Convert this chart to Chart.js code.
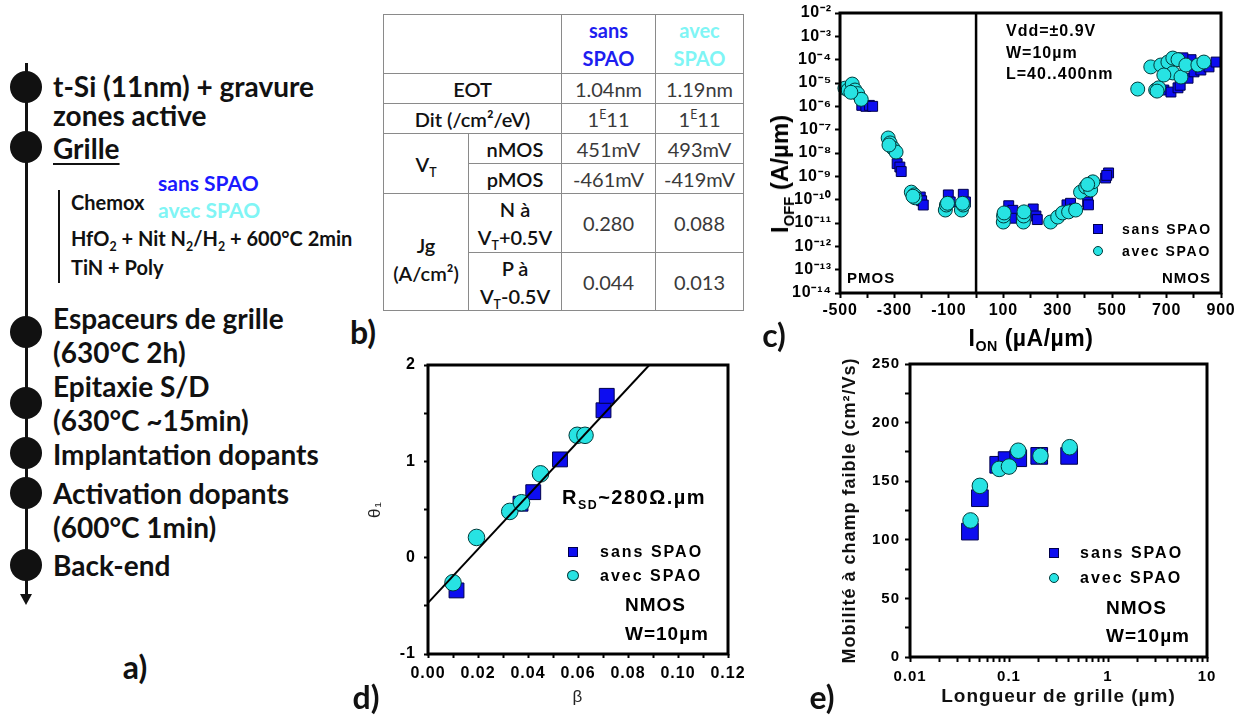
<!DOCTYPE html>
<html><head><meta charset="utf-8">
<script src="https://cdn.jsdelivr.net/npm/chart.js@4.4.0/dist/chart.umd.min.js"></script>
<style>
body{margin:0;background:#fff;}
#root{position:relative;width:1243px;height:715px;overflow:hidden;background:#fff;font-family:'Liberation Sans',Arial,sans-serif;color:#000;}
canvas{position:absolute;}
.t{position:absolute;white-space:nowrap;line-height:1;transform:translateY(-50%);}
.a{font-family:Lato,sans-serif;font-weight:700;font-size:28px;color:#111;}
.s{font-family:Lato,sans-serif;font-weight:700;font-size:20px;color:#111;}
.lab{font-family:Lato,sans-serif;font-weight:700;font-size:32px;color:#111;transform:translate(-50%,-50%);}
.ann{font-weight:700;font-size:19px;letter-spacing:1px;}
.leg{font-weight:700;font-size:16px;letter-spacing:2px;}
.sq{position:absolute;background:#0d0df0;border:1px solid #00004d;box-sizing:border-box;}
.ci{position:absolute;background:#27e3e3;border:1px solid #003a3a;border-radius:50%;box-sizing:border-box;}
.dot{position:absolute;width:32px;height:32px;border-radius:50%;background:#111;left:10px;}
sub,sup{font-size:0.62em;line-height:0;}
#tb{position:absolute;left:383px;top:14px;border-collapse:collapse;table-layout:fixed;width:360px;font-family:Lato,sans-serif;font-size:20px;color:#3a3a3a;}
#tb td{border:1px solid #8a8a8a;text-align:center;vertical-align:middle;padding:0;line-height:28px;white-space:nowrap;overflow:hidden;}
#tb td.k{color:#111;font-weight:600;}
#tb td.h1{color:#1e1ef0;font-weight:700;}
#tb td.h2{color:#7ff5f5;font-weight:700;}
</style></head>
<body><div id="root">

<!-- panel a -->
<div style="position:absolute;left:24.5px;top:63px;width:3px;height:535px;background:#111;"></div>
<div style="position:absolute;left:20px;top:594px;width:0;height:0;border-left:6px solid transparent;border-right:6px solid transparent;border-top:11px solid #111;"></div>
<div class="dot" style="top:71px"></div>
<div class="dot" style="top:131px"></div>
<div class="dot" style="top:316px"></div>
<div class="dot" style="top:387px"></div>
<div class="dot" style="top:437px"></div>
<div class="dot" style="top:477px"></div>
<div class="dot" style="top:549px"></div>
<div class="t a" style="left:53px;top:86px">t-Si (11nm) + gravure</div>
<div class="t a" style="left:53px;top:115px">zones active</div>
<div class="t a" style="left:53px;top:148px;text-decoration:underline;text-decoration-thickness:2px;text-underline-offset:4px;">Grille</div>
<div style="position:absolute;left:58px;top:190px;width:2px;height:93px;background:#111;"></div>
<div class="t s" style="left:71px;top:202px">Chemox</div>
<div class="t s" style="left:158px;top:182px;color:#1a1aff;font-size:21px">sans SPAO</div>
<div class="t s" style="left:158px;top:209px;color:#80f5f5;font-size:21px">avec SPAO</div>
<div class="t s" style="left:71px;top:238px">HfO<sub>2</sub> + Nit N<sub>2</sub>/H<sub>2</sub> + 600°C 2min</div>
<div class="t s" style="left:71px;top:267px">TiN + Poly</div>
<div class="t a" style="left:53px;top:318px">Espaceurs de grille</div>
<div class="t a" style="left:53px;top:352px">(630°C 2h)</div>
<div class="t a" style="left:53px;top:386px">Epitaxie S/D</div>
<div class="t a" style="left:53px;top:420px">(630°C ~15min)</div>
<div class="t a" style="left:53px;top:454px">Implantation dopants</div>
<div class="t a" style="left:53px;top:493px">Activation dopants</div>
<div class="t a" style="left:53px;top:527px">(600°C 1min)</div>
<div class="t a" style="left:53px;top:565px">Back-end</div>
<div class="t lab" style="left:135px;top:667px">a)</div>

<!-- panel b -->
<table id="tb">
<colgroup><col style="width:85px"><col style="width:93px"><col style="width:94px"><col style="width:88px"></colgroup>
<tr style="height:59px"><td colspan="2"></td><td class="h1">sans<br>SPAO</td><td class="h2">avec<br>SPAO</td></tr>
<tr style="height:30px"><td colspan="2" class="k">EOT</td><td>1.04nm</td><td>1.19nm</td></tr>
<tr style="height:30px"><td colspan="2" class="k">Dit (/cm²/eV)</td><td>1<sup>E</sup>11</td><td>1<sup>E</sup>11</td></tr>
<tr style="height:30px"><td rowspan="2" class="k">V<sub>T</sub></td><td class="k">nMOS</td><td>451mV</td><td>493mV</td></tr>
<tr style="height:30px"><td class="k">pMOS</td><td>-461mV</td><td>-419mV</td></tr>
<tr style="height:59px"><td rowspan="2" class="k" style="padding-top:14px">Jg<br>(A/cm²)</td><td class="k">N à<br>V<sub>T</sub>+0.5V</td><td>0.280</td><td>0.088</td></tr>
<tr style="height:58px"><td class="k">P à<br>V<sub>T</sub>-0.5V</td><td>0.044</td><td>0.013</td></tr>
</table>
<div class="t lab" style="left:363px;top:332px">b)</div>

<!-- panel c -->
<canvas id="cc" width="470" height="330" style="left:770px;top:0px"></canvas>
<div class="t" style="left:780px;top:174px;font-weight:700;font-size:24px;transform:translate(-50%,-50%) rotate(-90deg);">I<sub>OFF</sub> (A/µm)</div>
<div class="t" style="left:1031px;top:338px;font-weight:700;font-size:23px;letter-spacing:0.5px;transform:translate(-50%,-50%);">I<sub>ON</sub> (µA/µm)</div>
<div class="t ann" style="left:1006px;top:31px;font-size:16px;">Vdd=±0.9V</div>
<div class="t ann" style="left:1006px;top:53px;font-size:16px;">W=10µm</div>
<div class="t ann" style="left:1006px;top:74px;font-size:16px;">L=40..400nm</div>
<div class="t ann" style="left:847px;top:277px;font-size:15px;">PMOS</div>
<div class="t ann" style="left:1162px;top:277px;font-size:15px;">NMOS</div>
<div class="sq" style="left:1093px;top:224px;width:10px;height:10px"></div>
<div class="ci" style="left:1093px;top:246px;width:10px;height:10px"></div>
<div class="t leg" style="left:1122px;top:229px;font-size:14px;letter-spacing:1.7px;">sans SPAO</div>
<div class="t leg" style="left:1122px;top:251px;font-size:14px;letter-spacing:1.7px;">avec SPAO</div>
<div class="t lab" style="left:774px;top:335px">c)</div>

<!-- panel d -->
<canvas id="cd" width="420" height="370" style="left:340px;top:350px"></canvas>
<div class="t ann" style="left:562px;top:497px;font-size:20px;letter-spacing:1.5px;">R<sub>SD</sub>~280Ω.µm</div>
<div class="sq" style="left:568px;top:547px;width:10px;height:10px"></div>
<div class="ci" style="left:567px;top:570px;width:12px;height:11px"></div>
<div class="t leg" style="left:600px;top:552px;">sans SPAO</div>
<div class="t leg" style="left:600px;top:576px;">avec SPAO</div>
<div class="t ann" style="left:625px;top:604px;">NMOS</div>
<div class="t ann" style="left:625px;top:633px;">W=10µm</div>
<div class="t lab" style="left:366px;top:697px">d)</div>

<!-- panel e -->
<canvas id="ce" width="413" height="365" style="left:830px;top:350px"></canvas>
<div class="sq" style="left:1049px;top:548px;width:10px;height:10px"></div>
<div class="ci" style="left:1049px;top:573px;width:10px;height:10px"></div>
<div class="t leg" style="left:1080px;top:553px;">sans SPAO</div>
<div class="t leg" style="left:1080px;top:578px;">avec SPAO</div>
<div class="t ann" style="left:1106px;top:607px;">NMOS</div>
<div class="t ann" style="left:1106px;top:635px;">W=10µm</div>
<div class="t lab" style="left:822px;top:697px">e)</div>

</div>
<script>
// ===== Panel c : Ioff vs Ion =====
const C_SANS_ION  = [-420,-405,-392,-380, -290,-280,-275, -205,-200,-194, -102,-95,-47,-39,
  120,135,130,210,220,225, 334,347,360,410,413, 476,487,480,
  690,716,742,750,779,801,790,826,856,882,760];
const C_SANS_IOFF = [1.1e-6,1.0e-6,1.1e-6,1.0e-6, 3.5e-9,2.5e-9,1.6e-9, 1.3e-10,9e-11,5.9e-11, 1.6e-10,8e-11,1.7e-10,8e-11,
  5.5e-11,3.5e-11,1.6e-11,4e-11,2e-11,1.4e-11, 6e-11,7e-11,4e-11,8e-11,6e-11, 8.5e-10,1.4e-9,1.1e-9,
  5e-6,4.1e-6,6.2e-6,8e-6,1.6e-5,3.0e-5,1e-4,3.6e-5,4.9e-5,7.9e-5,1.2e-4];
const C_AVEC_ION  = [-482,-470,-455,-445,-435,-422,-460, -323,-316,-305,-294,-320, -238,-227,-224,-232,
  -113,-109,-54,-47,-105,-50,
  100,101,103,174,175,176, 274,300,318,340,366, 384,403,421,429,410,
  594,660,671,642,679,705,723,742,723,753,771,815,837,690,665];
const C_AVEC_IOFF = [6e-6,5e-6,9e-6,5e-6,3.5e-6,2e-6,4e-6, 4.4e-8,2.7e-8,1.6e-8,1.1e-8,2.2e-8, 2.1e-10,1.6e-10,1.2e-10,1.4e-10,
  3.6e-11,5.9e-11,3.6e-11,5.9e-11,7e-11,7e-11,
  1.1e-11,2.0e-11,2.7e-11,1.1e-11,2e-11,3e-11, 1.1e-11,1.8e-11,2.7e-11,3e-11,3.6e-11, 2.1e-10,3.5e-10,2.6e-10,5.8e-10,4.5e-10,
  5.5e-6,5.0e-6,6.2e-6,4.9e-5,5.9e-5,7.9e-5,1.17e-4,1e-4,2.7e-5,1.8e-5,5.9e-5,5.9e-5,7.9e-5,2.2e-5,4.5e-6];
const C_Y_EXPONENTS = [-14,-13,-12,-11,-10,-9,-8,-7,-6,-5,-4,-3,-2];
const C_X_LABELS = [-500,-300,-100,100,300,500,700,900];
const C_SEPARATOR_ION = 0;

// ===== Panel d : theta1 vs beta =====
const D_SANS_BETA  = [0.0114,0.0370,0.0421,0.0528,0.0702,0.0715];
const D_SANS_THETA = [-0.34,0.56,0.68,1.02,1.53,1.68];
const D_AVEC_BETA  = [0.0100,0.0194,0.0327,0.0374,0.0450,0.0597,0.0628];
const D_AVEC_THETA = [-0.26,0.21,0.48,0.57,0.87,1.27,1.27];
const D_FIT_INTERCEPT = -0.47;
const D_FIT_SLOPE = 27.9;
const D_X_LABELS = ['0.00','0.02','0.04','0.06','0.08','0.10','0.12'];
const D_Y_LABELS = [-1,0,1,2];

// ===== Panel e : mobility vs gate length =====
const E_SANS_L  = [0.0403,0.0508,0.0778,0.0946,0.124,0.202,0.405];
const E_SANS_MU = [107,135.5,164,168,169.6,171.6,171.6];
const E_AVEC_L  = [0.0409,0.0508,0.0796,0.100,0.124,0.208,0.41];
const E_AVEC_MU = [116.5,146,160.5,162.5,176,171.6,179];
const E_X_LABELS = [0.01,0.1,1,10];
const E_Y_LABELS = [0,50,100,150,200,250];

// ---- styles ----
const BLUE = '#0d0df0', BLUE_EDGE = '#00004d';
const CYAN = '#27e3e3', CYAN_EDGE = '#003a3a';
const FAMILY = "'Liberation Sans', Arial, sans-serif";
const TICK_FONT = {family:FAMILY, weight:'bold'};

const framePlugin = {
  id:'frame',
  afterDraw(chart){
    const {ctx, chartArea:a} = chart;
    ctx.save(); ctx.lineWidth = 3; ctx.strokeStyle = '#000';
    ctx.strokeRect(a.left, a.top, a.right - a.left, a.bottom - a.top);
    ctx.restore();
  }
};
function spacingPlugin(px){
  const set = chart => { try { chart.ctx.letterSpacing = px + 'px'; } catch(e){} };
  return {id:'spacing', beforeInit:set, beforeLayout:set, beforeDraw:set};
}

function pts(xs, ys){ return xs.map((x,i)=>({x, y:ys[i]})); }
function sansSet(xs, ys, r){
  return {data:pts(xs,ys), pointStyle:'rect', pointRadius:r, pointHoverRadius:r,
    pointBackgroundColor:BLUE, pointBorderColor:BLUE_EDGE, pointBorderWidth:1, showLine:false, order:2, clip:false};
}
function avecSet(xs, ys, r){
  return {data:pts(xs,ys), pointStyle:'circle', pointRadius:r, pointHoverRadius:r,
    pointBackgroundColor:CYAN, pointBorderColor:CYAN_EDGE, pointBorderWidth:1, showLine:false, order:1, clip:false};
}
function yFit(w){ return s => { s.width = w; s.paddingTop = 0; s.paddingBottom = 0; }; }
function xFit(h){ return s => { s.height = h; s.paddingLeft = 0; s.paddingRight = 0; }; }
function gridOpts(len){ return {display:true, drawOnChartArea:false, drawTicks:true, tickLength:len, tickWidth:2, tickColor:'#000'}; }
const baseOpts = {responsive:false, animation:false, devicePixelRatio:1,
  plugins:{legend:{display:false}, tooltip:{enabled:false}}, events:[]};

const SUP = {'-':'⁻','0':'⁰','1':'¹','2':'²','3':'³','4':'⁴','5':'⁵','6':'⁶','7':'⁷','8':'⁸','9':'⁹'};
function pow10Label(e){ return '10' + String(e).split('').map(c=>SUP[c]).join(''); }

// ---- chart c ----
const cYMin = Math.pow(10, C_Y_EXPONENTS[0]), cYMax = Math.pow(10, C_Y_EXPONENTS[C_Y_EXPONENTS.length-1]);
new Chart(document.getElementById('cc'), {
  type:'scatter',
  data:{datasets:[
    sansSet(C_SANS_ION, C_SANS_IOFF, 7),
    avecSet(C_AVEC_ION, C_AVEC_IOFF, 7),
    {data:[{x:C_SEPARATOR_ION,y:cYMin},{x:C_SEPARATOR_ION,y:cYMax}], showLine:true, borderColor:'#000', borderWidth:2.5, pointRadius:0, order:3}
  ]},
  options:Object.assign({}, baseOpts, {
    layout:{padding:{left:0, top:13, right:19, bottom:0}},
    scales:{
      x:{type:'linear', min:-500, max:900, border:{display:false}, grid:gridOpts(5),
        ticks:{stepSize:100, autoSkip:false, maxRotation:0, padding:3, color:'#000', font:Object.assign({size:16}, TICK_FONT),
          callback:v => C_X_LABELS.includes(Math.round(v)) ? String(Math.round(v)) : ''},
        afterFit:xFit(37)},
      y:{type:'logarithmic', min:cYMin, max:cYMax, border:{display:false}, grid:gridOpts(5),
        afterBuildTicks:s => { s.ticks = C_Y_EXPONENTS.map(e => ({value:Math.pow(10,e)})); },
        ticks:{autoSkip:false, padding:3, color:'#000', font:Object.assign({size:16}, TICK_FONT),
          callback:v => pow10Label(Math.round(Math.log10(v)))},
        afterFit:yFit(70)}
    }
  }),
  plugins:[framePlugin, spacingPlugin(0.8)]
});

// ---- chart d ----
const dYMin = D_Y_LABELS[0], dYMax = D_Y_LABELS[D_Y_LABELS.length-1];
const dFitEnd = (dYMax - D_FIT_INTERCEPT) / D_FIT_SLOPE;
new Chart(document.getElementById('cd'), {
  type:'scatter',
  data:{datasets:[
    sansSet(D_SANS_BETA, D_SANS_THETA, 10.5),
    avecSet(D_AVEC_BETA, D_AVEC_THETA, 8.3),
    {data:[{x:0,y:D_FIT_INTERCEPT},{x:dFitEnd,y:dYMax}], showLine:true, borderColor:'#000', borderWidth:2, pointRadius:0, order:0}
  ]},
  options:Object.assign({}, baseOpts, {
    layout:{padding:{left:0, top:15, right:32, bottom:0}},
    scales:{
      x:{type:'linear', min:0, max:0.12, border:{display:false}, grid:gridOpts(4),
        title:{display:true, text:'β', color:'#222', font:{family:FAMILY, size:17}, padding:{top:0,bottom:12}},
        ticks:{stepSize:0.01, autoSkip:false, maxRotation:0, padding:6, color:'#000', font:Object.assign({size:16}, TICK_FONT),
          callback:v => { const k = Math.round(v*100); return D_X_LABELS.includes((k/100).toFixed(2)) && k%2===0 ? (k/100).toFixed(2) : ''; }},
        afterFit:xFit(66)},
      y:{type:'linear', min:dYMin, max:dYMax, border:{display:false}, grid:gridOpts(4),
        title:{display:true, text:'θ₁', color:'#222', font:{family:FAMILY, size:17}, padding:{top:25,bottom:0}},
        ticks:{stepSize:0.5, autoSkip:false, padding:8, color:'#000', font:Object.assign({size:16}, TICK_FONT),
          callback:v => D_Y_LABELS.includes(v) ? String(v) : ''},
        afterFit:yFit(88)}
    }
  }),
  plugins:[framePlugin, spacingPlugin(1)]
});

// ---- chart e ----
const eXMin = E_X_LABELS[0], eXMax = E_X_LABELS[E_X_LABELS.length-1];
const eXTicks = [];
for (let d = eXMin; d < eXMax * 0.999; d *= 10) for (let m = 1; m <= 9; m++) eXTicks.push(d*m);
eXTicks.push(eXMax);
new Chart(document.getElementById('ce'), {
  type:'scatter',
  data:{datasets:[
    sansSet(E_SANS_L, E_SANS_MU, 11.8),
    avecSet(E_AVEC_L, E_AVEC_MU, 7.8)
  ]},
  options:Object.assign({}, baseOpts, {
    layout:{padding:{left:0, top:14, right:36, bottom:0}},
    scales:{
      x:{type:'logarithmic', min:eXMin, max:eXMax, border:{display:false}, grid:gridOpts(5),
        afterBuildTicks:s => { s.ticks = eXTicks.map(v => ({value:v})); },
        title:{display:true, text:'Longueur de grille (µm)', color:'#111', font:{family:FAMILY, size:19, weight:'bold'}, padding:{top:0,bottom:7}},
        ticks:{autoSkip:false, maxRotation:0, padding:6, color:'#000', font:Object.assign({size:15}, TICK_FONT),
          callback:v => { const m = E_X_LABELS.find(t => Math.abs(t - v) < t*1e-6); return m !== undefined ? String(m) : ''; }},
        afterFit:xFit(58)},
      y:{type:'linear', min:E_Y_LABELS[0], max:E_Y_LABELS[E_Y_LABELS.length-1], border:{display:false}, grid:gridOpts(5),
        title:{display:true, text:'Mobilité à champ faible (cm²/Vs)', color:'#111', font:{family:FAMILY, size:18, weight:'bold'}, padding:{top:9,bottom:0}},
        ticks:{stepSize:25, autoSkip:false, padding:5, color:'#000', font:Object.assign({size:15}, TICK_FONT),
          callback:v => E_Y_LABELS.includes(v) ? String(v) : ''},
        afterFit:yFit(80)}
    }
  }),
  plugins:[framePlugin, spacingPlugin(1)]
});
</script>
</body></html>
